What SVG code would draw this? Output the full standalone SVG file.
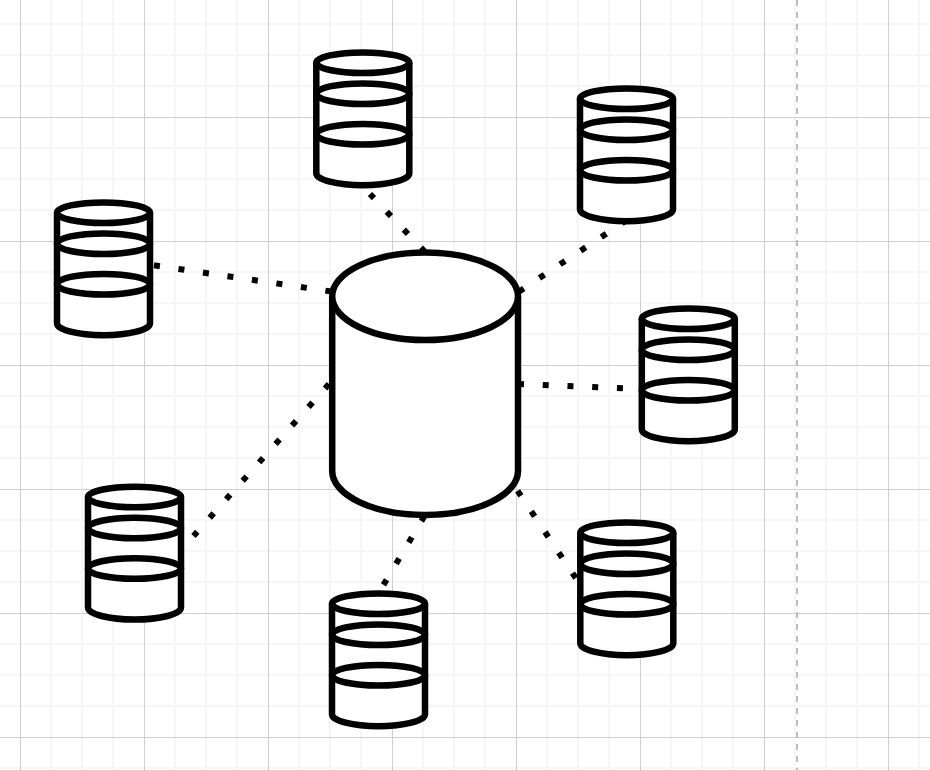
<svg xmlns="http://www.w3.org/2000/svg" width="930" height="770" viewBox="0 0 930 770">
<defs>
<style>
.minor{stroke:#f6f6f6;stroke-width:2;fill:none}
.major{stroke:#cfcfcf;stroke-width:1;fill:none}
.guide{stroke:#bdbdbd;stroke-width:2;stroke-dasharray:6 6;fill:none}
.c{stroke:#000;stroke-width:6;stroke-dasharray:6 18.75;fill:none}
.s{stroke:#000;stroke-width:6.500;fill:#fff;stroke-linejoin:round}
.n{stroke:#000;stroke-width:6.500;fill:none}
</style>
<g id="db">
<path class="s" d="M0 0V110.500A46.500 12 0 0 0 93 110.500V0"/>
<ellipse class="s" cx="46.500" cy="0" rx="46.500" ry="10.300"/>
<ellipse class="n" cx="46.500" cy="31" rx="46.500" ry="10.300"/>
<ellipse class="n" cx="46.500" cy="71.500" rx="46.500" ry="10.300"/>
</g>
</defs>
<rect width="930" height="770" fill="#fff"/>
<g id="grid">
<path class="minor" d="M51 0V770M82 0V770M113 0V770M175 0V770M206 0V770M237 0V770M299 0V770M330 0V770M361 0V770M423 0V770M454 0V770M485 0V770M547 0V770M578 0V770M609 0V770M671 0V770M702 0V770M733 0V770M795 0V770M826 0V770M857 0V770M919 0V770"/>
<path class="minor" d="M0 24H930M0 55H930M0 86H930M0 148H930M0 179H930M0 210H930M0 272H930M0 303H930M0 334H930M0 396H930M0 427H930M0 458H930M0 520H930M0 551H930M0 582H930M0 644H930M0 675H930M0 706H930M0 768H930"/>
<path class="major" d="M20.500 0V770M144.500 0V770M268.500 0V770M392.500 0V770M516.500 0V770M640.500 0V770M764.500 0V770M888.500 0V770"/>
<path class="major" d="M0 117.500H930M0 241.500H930M0 365.500H930M0 489.500H930M0 613.500H930M0 737.500H930"/>
<path class="guide" d="M797 0V770"/>
</g>
<g id="connectors">
<path class="c" d="M425 252L370 194"/>
<path class="c" d="M518.800 291.700L627 220"/>
<path class="c" d="M331.300 291.500L153.700 265.300"/>
<path class="c" d="M518 384L623 388.200"/>
<path class="c" d="M329 384L193.500 536"/>
<path class="c" d="M424.500 516L383.500 584.900"/>
<path class="c" d="M517.600 490.800L576 578.500"/>
</g>
<g id="node-top"><use href="#db" x="316.300" y="62.700"/></g>
<g id="node-upper-right"><use href="#db" x="580" y="98.700"/></g>
<g id="node-left"><use href="#db" x="57" y="212.700"/></g>
<g id="node-right"><use href="#db" x="641.800" y="318.700"/></g>
<g id="node-lower-left"><use href="#db" x="88" y="497"/></g>
<g id="node-bottom"><use href="#db" x="332" y="603.700"/></g>
<g id="node-lower-right"><use href="#db" x="580.300" y="532.700"/></g>
<g id="node-center">
<path class="s" d="M332.200 296.300V471A92.900 44 0 0 0 518 471V296.300"/>
<ellipse class="s" cx="425.100" cy="296.300" rx="92.900" ry="43.700"/>
</g>
</svg>
